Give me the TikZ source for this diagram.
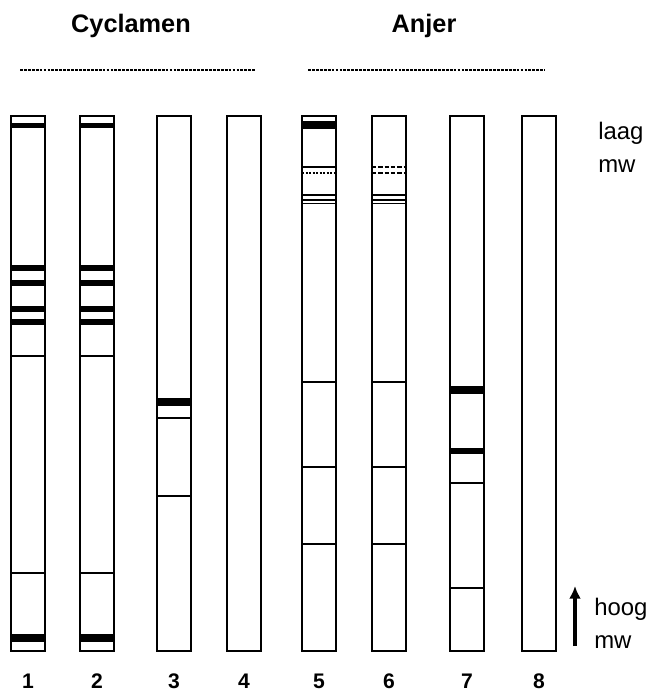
\documentclass[tikz,border=0pt]{standalone}
\usepackage{fontspec}
\setmainfont{Liberation Sans}
\usetikzlibrary{arrows.meta}
\begin{document}
\begin{tikzpicture}[x=0.025cm, y=-0.025cm,
    lane/.style={draw, line width=1.1pt},
    thinband/.style={line width=1pt},
    thickband/.style={line width=3.6pt},
    wideband/.style={line width=5.2pt},
    dashband/.style={line width=1pt, dash pattern=on 3pt off 1.5pt},
    finedash/.style={line width=0.8pt, dash pattern=on 1.5pt off 1pt},
    grouprule/.style={line width=0.8pt, dash pattern=on 2pt off 0.8pt},
    title/.style={font=\fontsize{18}{20}\selectfont\bfseries},
    lanenum/.style={font=\fontsize{15}{17}\selectfont\bfseries},
    side/.style={font=\fontsize{17}{17}\selectfont, inner sep=0pt, anchor=west}]
  \useasboundingbox (0,0) rectangle (652,692);

  % Group titles with dashed rules
  \node[title] (cyclamen) at (131,26) {Cyclamen};
  \node[title] (anjer) at (424,26) {Anjer};
  \draw[grouprule] (20,70) -- (255,70);
  \draw[grouprule] (308,70) -- (545,70);

  % Lanes and lane numbers
  \foreach \x/\n in {11/1,80/2,157/3,227/4,302/5,372/6,450/7,522/8} {
    \draw[lane] (\x,116) rectangle ++(34,535);
    \node[lanenum] (num\n) at (\x+17,681) {\n};
  }

  % Lanes 1 and 2 (Cyclamen)
  \foreach \x in {11,80} {
    \foreach \y in {125.5,268,283,309,322}
      \draw[thickband] (\x,\y) -- ++(34,0);
    \foreach \y in {356,573}
      \draw[thinband] (\x,\y) -- ++(34,0);
    \draw[wideband] (\x,638) -- ++(34,0);
  }

  % Lane 3
  \draw[wideband] (157,402) -- ++(34,0);
  \foreach \y in {418,496}
    \draw[thinband] (157,\y) -- ++(34,0);

  % Lanes 5 and 6 (Anjer)
  \draw[wideband] (302,125) -- ++(34,0);
  \draw[thinband] (302,167) -- ++(34,0);
  \draw[finedash] (302,173) -- ++(34,0);
  \foreach \y in {167,173}
    \draw[dashband] (372,\y) -- ++(34,0);
  \foreach \x in {302,372} {
    \draw[line width=1.4pt] (\x,195) -- ++(34,0);
    \foreach \y in {200,203.5,382,467,544}
      \draw[thinband] (\x,\y) -- ++(34,0);
  }

  % Lane 7
  \draw[wideband] (450,390) -- ++(34,0);
  \draw[thickband] (450,451) -- ++(34,0);
  \foreach \y in {483,588}
    \draw[thinband] (450,\y) -- ++(34,0);

  % Molecular weight direction
  \node[side] (laag) at (598,133) {laag};
  \node[side] (laagmw) at (598,166) {mw};
  \coordinate (arrowfoot) at (575,646);
  \coordinate (arrowtip) at (575,586);
  \draw[-{Latex[length=9pt,width=8.5pt]}, line width=2.3pt] (arrowfoot) -- (arrowtip);
  \node[side] (hoog) at (594,609) {hoog};
  \node[side] (hoogmw) at (594,642) {mw};
\end{tikzpicture}
\end{document}
